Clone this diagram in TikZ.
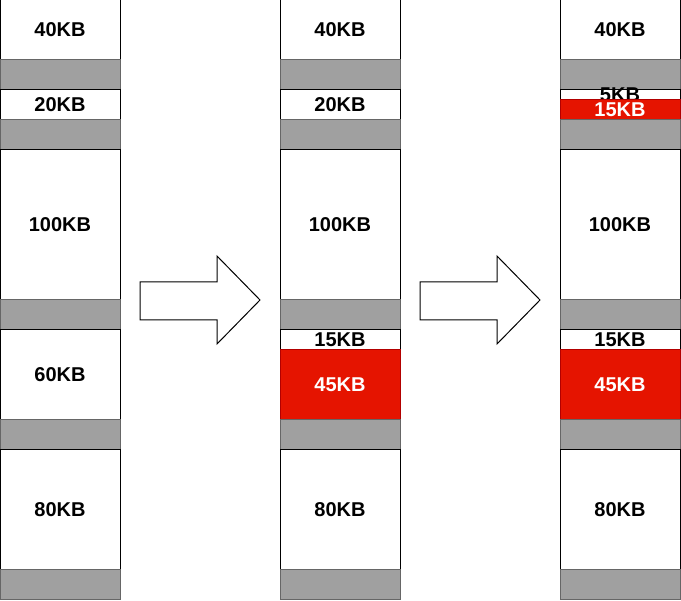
\documentclass[tikz,border=0pt]{standalone}
\usepackage{fontspec}
\setmainfont{Liberation Sans}
\usetikzlibrary{positioning}
\definecolor{grayfill}{HTML}{A0A0A0}
\definecolor{grayline}{HTML}{666666}
\definecolor{redfill}{HTML}{E51400}
\definecolor{redline}{HTML}{B20000}

\begin{document}
\begin{tikzpicture}[x=1pt, y=-1pt, line width=1pt, node distance=0pt,
  font=\bfseries\fontsize{20}{22}\selectfont]
\tikzstyle{free}=[draw=black,fill=white,text=black,minimum width=120pt,inner sep=0pt,outer sep=0pt]
\tikzstyle{used}=[free,draw=grayline,fill=grayfill]
\tikzstyle{taken}=[free,draw=redline,fill=redfill,text=white]
\useasboundingbox (0,0) rectangle (681,601);

% before
\node[free,anchor=north west,minimum height=60pt] (A1) at (0,0) {40KB};
\node[used,minimum height=30pt]  (G11)[below=of A1]  {};
\node[free,minimum height=30pt]  (B1)[below=of G11]  {20KB};
\node[used,minimum height=30pt]  (G12)[below=of B1]  {};
\node[free,minimum height=150pt] (C1)[below=of G12]  {100KB};
\node[used,minimum height=30pt]  (G13)[below=of C1]  {};
\node[free,minimum height=90pt]  (D1)[below=of G13]  {60KB};
\node[used,minimum height=30pt]  (G14)[below=of D1]  {};
\node[free,minimum height=120pt] (E1)[below=of G14]  {80KB};
\node[used,minimum height=30pt]  (G15)[below=of E1]  {};

% 45KB placed
\node[free,anchor=north west,minimum height=60pt] (A2) at (280,0) {40KB};
\node[used,minimum height=30pt]  (G21)[below=of A2]  {};
\node[free,minimum height=30pt]  (B2)[below=of G21]  {20KB};
\node[used,minimum height=30pt]  (G22)[below=of B2]  {};
\node[free,minimum height=150pt] (C2)[below=of G22]  {100KB};
\node[used,minimum height=30pt]  (G23)[below=of C2]  {};
\node[free,minimum height=20pt]  (D2)[below=of G23]  {15KB};
\node[taken,minimum height=70pt] (R2)[below=of D2]   {45KB};
\node[used,minimum height=30pt]  (G24)[below=of R2]  {};
\node[free,minimum height=120pt] (E2)[below=of G24]  {80KB};
\node[used,minimum height=30pt]  (G25)[below=of E2]  {};

% 15KB placed
\node[free,anchor=north west,minimum height=60pt] (A3) at (560,0) {40KB};
\node[used,minimum height=30pt]  (G31)[below=of A3]  {};
\node[free,minimum height=10pt]  (B3)[below=of G31]  {\smash{\raisebox{-7pt}{5KB}}};
\node[taken,minimum height=20pt] (S3)[below=of B3]   {15KB};
\node[used,minimum height=30pt]  (G32)[below=of S3]  {};
\node[free,minimum height=150pt] (C3)[below=of G32]  {100KB};
\node[used,minimum height=30pt]  (G33)[below=of C3]  {};
\node[free,minimum height=20pt]  (D3)[below=of G33]  {15KB};
\node[taken,minimum height=70pt] (R3)[below=of D3]   {45KB};
\node[used,minimum height=30pt]  (G34)[below=of R3]  {};
\node[free,minimum height=120pt] (E3)[below=of G34]  {80KB};
\node[used,minimum height=30pt]  (G35)[below=of E3]  {};

% block arrows
\foreach \dx in {0,280}
  \draw[fill=white] (140+\dx,282) -- (217+\dx,282) -- (217+\dx,256) -- (260+\dx,300)
    -- (217+\dx,344) -- (217+\dx,320) -- (140+\dx,320) -- cycle;
\end{tikzpicture}
\end{document}
